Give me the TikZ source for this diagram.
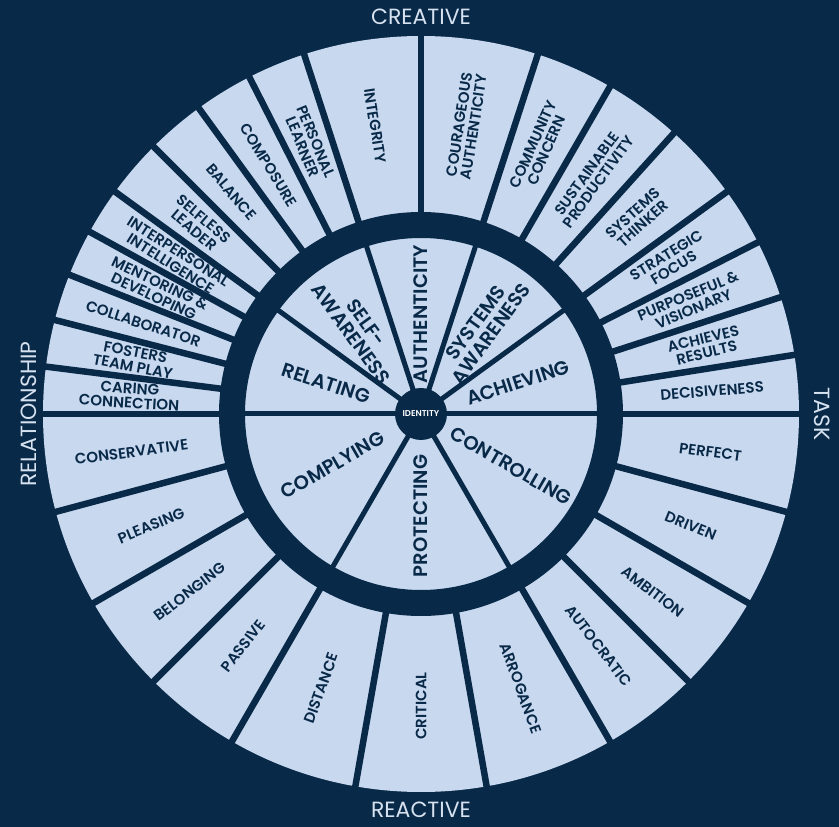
\documentclass[tikz,border=0pt]{standalone}
\usepackage{fontspec}
\IfFontExistsTF{Poppins Medium}
  {\setmainfont{Poppins}[UprightFont=* Medium, BoldFont=* SemiBold]}
  {\setmainfont{Poppins}}
\newfontfamily\axisfont{Poppins}
\definecolor{wheelnavy}{RGB}{9,41,72}
\definecolor{wheelpale}{RGB}{200,217,239}
\definecolor{axislight}{RGB}{214,226,240}

\begin{document}
\begin{tikzpicture}[
  x=1pt, y=1pt,
  segtext/.style={text=wheelnavy, align=center, inner sep=0pt,
                  font=\fontsize{15}{14.5}\selectfont\bfseries},
  coretext/.style={text=wheelnavy, align=center, inner sep=0pt,
                   font=\fontsize{19.5}{19}\selectfont\bfseries},
  axistext/.style={text=axislight, inner sep=0pt,
                   font=\axisfont\fontsize{22}{24}\selectfont},
  outerline/.style={draw=wheelnavy, line width=6.5pt},
  innerline/.style={draw=wheelnavy, line width=5pt}
]

% canvas
\fill[wheelnavy] (-421,-413) rectangle (418,414);
\useasboundingbox (-421,-413) rectangle (418,414);

% wheel
\fill[wheelpale] (0,0) circle (378);
\foreach \a in {0,9,18,27,36,48,60,72,90,108,117,126,135,144,151.2,158.4,165.6,172.8,
                180,195,210,225,240,260,280,300,315,330,345}
  \draw[outerline] (\a:189) -- (\a:384);
\foreach \a in {0,36,72,108,144,180,240,300}
  \draw[innerline] (0,0) -- (\a:180);
\draw[draw=wheelnavy, line width=26pt] (0,0) circle (189);
\node[circle, fill=wheelnavy, minimum size=52pt, inner sep=0pt,
      text=white, font=\fontsize{8.5}{9}\selectfont\bfseries] (identity) at (0,0) {IDENTITY};

% inner core
\node[coretext, rotate=-18] (relating) at (162:100) {RELATING};
\node[coretext, rotate=-54] (selfaware) at (126:106) {SELF-\\AWARENESS};
\node[coretext, rotate=90] (authentic) at (90:100) {AUTHENTICITY};
\node[coretext, rotate=54] (sysaware) at (54:106) {SYSTEMS\\AWARENESS};
\node[coretext, rotate=18] (achieving) at (18:102) {ACHIEVING};
\node[coretext, rotate=30] (complying) at (210:102) {COMPLYING};
\node[coretext, rotate=90] (protecting) at (270:102) {PROTECTING};
\node[coretext, rotate=-30] (controlling) at (330:104) {CONTROLLING};

% outer ring, creative half
\node[segtext, rotate=4.5] (decisive) at (4.5:292) {DECISIVENESS};
\node[segtext, rotate=13.5] (results) at (13.5:292) {ACHIEVES\\RESULTS};
\node[segtext, rotate=22.5] (purpose) at (22.5:292) {PURPOSEFUL \&\\VISIONARY};
\node[segtext, rotate=31.5] (strategic) at (31.5:292) {STRATEGIC\\FOCUS};
\node[segtext, rotate=42] (systhink) at (42:292) {SYSTEMS\\THINKER};
\node[segtext, rotate=54] (sustain) at (54:292) {SUSTAINABLE\\PRODUCTIVITY};
\node[segtext, rotate=66] (community) at (66:292) {COMMUNITY\\CONCERN};
\node[segtext, rotate=81] (courage) at (81:292) {COURAGEOUS\\AUTHENTICITY};
\node[segtext, rotate=-81] (integrity) at (99:292) {INTEGRITY};
\node[segtext, rotate=-67.5] (learner) at (112.5:292) {PERSONAL\\LEARNER};
\node[segtext, rotate=-58.5] (composure) at (121.5:292) {COMPOSURE};
\node[segtext, rotate=-49.5] (balance) at (130.5:292) {BALANCE};
\node[segtext, rotate=-40.5] (selfless) at (139.5:292) {SELFLESS\\LEADER};
\node[segtext, rotate=-32.4] (interpers) at (147.6:292) {INTERPERSONAL\\INTELLIGENCE};
\node[segtext, rotate=-25.2] (mentoring) at (154.8:292) {MENTORING \&\\DEVELOPING};
\node[segtext, rotate=-18] (collab) at (162:292) {COLLABORATOR};
\node[segtext, rotate=-10.8] (fosters) at (169.2:292) {FOSTERS\\TEAM PLAY};
\node[segtext, rotate=-3.6] (caring) at (176.4:292) {CARING\\CONNECTION};

% outer ring, reactive half
\node[segtext, rotate=7.5] (conserv) at (187.5:292) {CONSERVATIVE};
\node[segtext, rotate=22.5] (pleasing) at (202.5:292) {PLEASING};
\node[segtext, rotate=37.5] (belonging) at (217.5:292) {BELONGING};
\node[segtext, rotate=52.5] (passive) at (232.5:292) {PASSIVE};
\node[segtext, rotate=70] (distance) at (250:292) {DISTANCE};
\node[segtext, rotate=90] (critical) at (270:292) {CRITICAL};
\node[segtext, rotate=-70] (arrogance) at (290:292) {ARROGANCE};
\node[segtext, rotate=-52.5] (autocratic) at (307.5:292) {AUTOCRATIC};
\node[segtext, rotate=-37.5] (ambition) at (322.5:292) {AMBITION};
\node[segtext, rotate=-22.5] (driven) at (337.5:292) {DRIVEN};
\node[segtext, rotate=-7.5] (perfect) at (352.5:292) {PERFECT};

% axis labels
\node[axistext] (creative) at (0,397) {CREATIVE};
\node[axistext] (reactive) at (0,-396) {REACTIVE};
\node[axistext, rotate=90] (relation) at (-392,0) {RELATIONSHIP};
\node[axistext, rotate=-90] (task) at (401,0) {TASK};

\end{tikzpicture}
\end{document}
